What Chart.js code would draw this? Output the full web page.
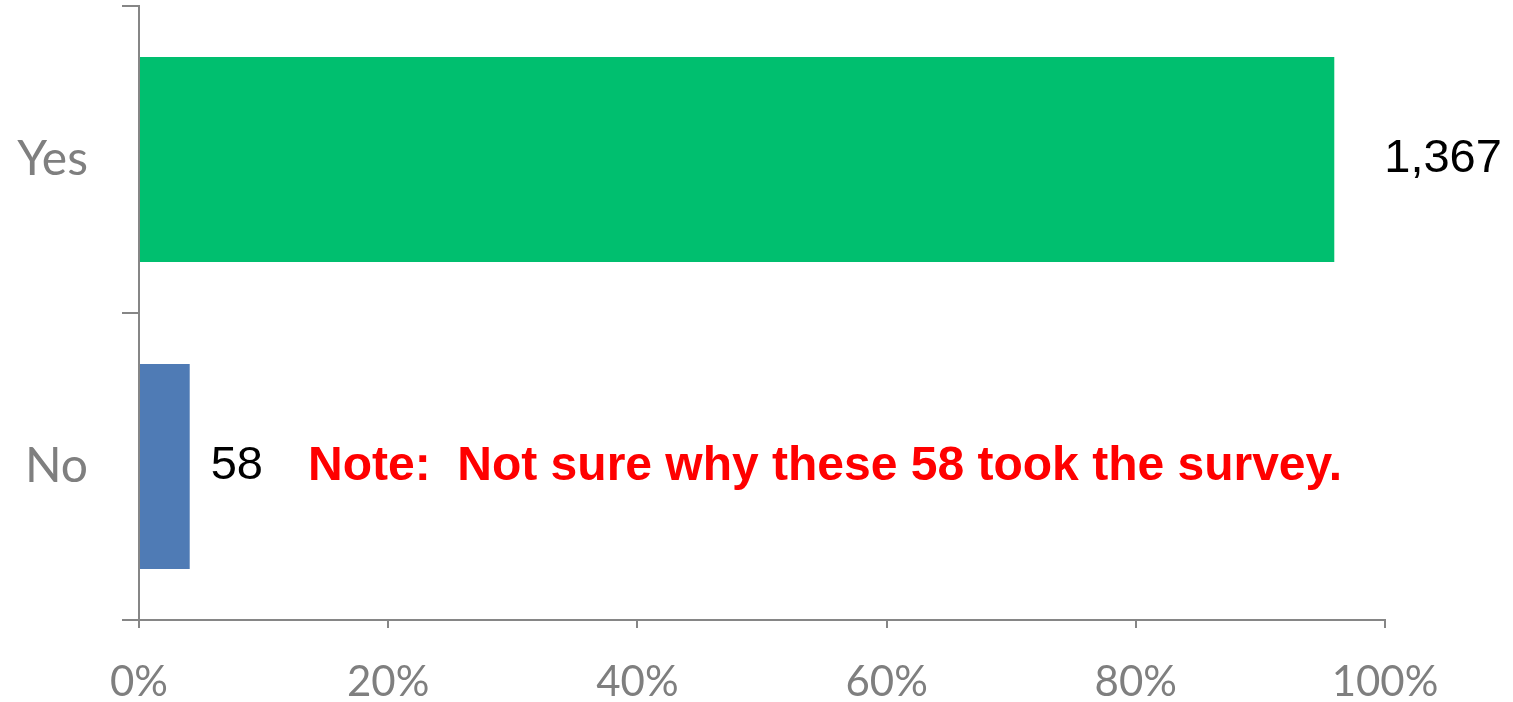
<!DOCTYPE html>
<html>
<head>
<meta charset="utf-8">
<script src="https://cdn.jsdelivr.net/npm/chart.js@4"></script>
<style>
  html, body { margin: 0; padding: 0; background: #ffffff; }
  #wrap { width: 1513px; height: 702px; }
</style>
</head>
<body>
<div id="wrap"><canvas id="c" width="1513" height="702"></canvas></div>
<script>
// ---- data ----
const categories = ['Yes', 'No'];
const counts = [1367, 58];
const countLabels = ['1,367', '58'];
const xTickValues = [0, 20, 40, 60, 80, 100];
const noteText = 'Note:  Not sure why these 58 took the survey.';
const noteCategory = 'No';

// ---- style ----
const barColors = ['#00BF6F', '#4F7BB5'];
const axisColor = '#868686';
const tickFontColor = '#7f7f7f';
const labelOffsets = [50, 21];

const total = counts.reduce((a, b) => a + b, 0);
const shares = counts.map(v => v / total * 100);

const valueLabelPlugin = {
  id: 'valueLabels',
  afterDatasetsDraw(chart) {
    const ctx = chart.ctx;
    const meta = chart.getDatasetMeta(0);
    ctx.save();
    meta.data.forEach((bar, i) => {
      const x = bar.x + labelOffsets[i];
      const y = bar.y;
      ctx.font = '47px "Liberation Sans", Arial, sans-serif';
      ctx.fillStyle = '#000000';
      ctx.textAlign = 'left';
      ctx.textBaseline = 'middle';
      ctx.fillText(countLabels[i], x, y);
      if (categories[i] === noteCategory) {
        const w = ctx.measureText(countLabels[i]).width;
        ctx.font = 'bold 48px "Liberation Sans", Arial, sans-serif';
        ctx.fillStyle = '#FF0000';
        ctx.fillText(noteText, x + w + 45, y);
      }
    });
    ctx.restore();
  }
};

new Chart(document.getElementById('c'), {
  type: 'bar',
  data: {
    labels: categories,
    datasets: [{
      data: shares,
      backgroundColor: barColors,
      borderWidth: 0,
      barPercentage: 1.0,
      categoryPercentage: 0.667
    }]
  },
  options: {
    indexAxis: 'y',
    responsive: false,
    animation: false,
    devicePixelRatio: 1,
    layout: { padding: { top: 6, right: 128, bottom: 0, left: 0 } },
    plugins: { legend: { display: false }, tooltip: { enabled: false } },
    scales: {
      x: {
        min: 0, max: 100,
        afterBuildTicks(scale) { scale.ticks = xTickValues.map(v => ({ value: v })); },
        afterFit(scale) { scale.height = 82; },
        border: { display: true, color: axisColor, width: 2 },
        grid: { drawOnChartArea: false, drawTicks: true, tickLength: 8, color: axisColor, lineWidth: 2 },
        ticks: {
          color: tickFontColor,
          padding: 29,
          maxRotation: 0,
          font: { family: 'Lato', size: 42 },
          callback: v => v + '%'
        }
      },
      y: {
        offset: true,
        afterFit(scale) { scale.width = 139; scale.paddingTop = 0; scale.paddingBottom = 0; },
        border: { display: true, color: axisColor, width: 2 },
        grid: { offset: true, drawOnChartArea: false, drawTicks: true, tickLength: 17, color: axisColor, lineWidth: 2 },
        ticks: {
          color: tickFontColor,
          padding: 34,
          font: { family: 'Lato', size: 48 }
        }
      }
    }
  },
  plugins: [valueLabelPlugin]
});
</script>
</body>
</html>
